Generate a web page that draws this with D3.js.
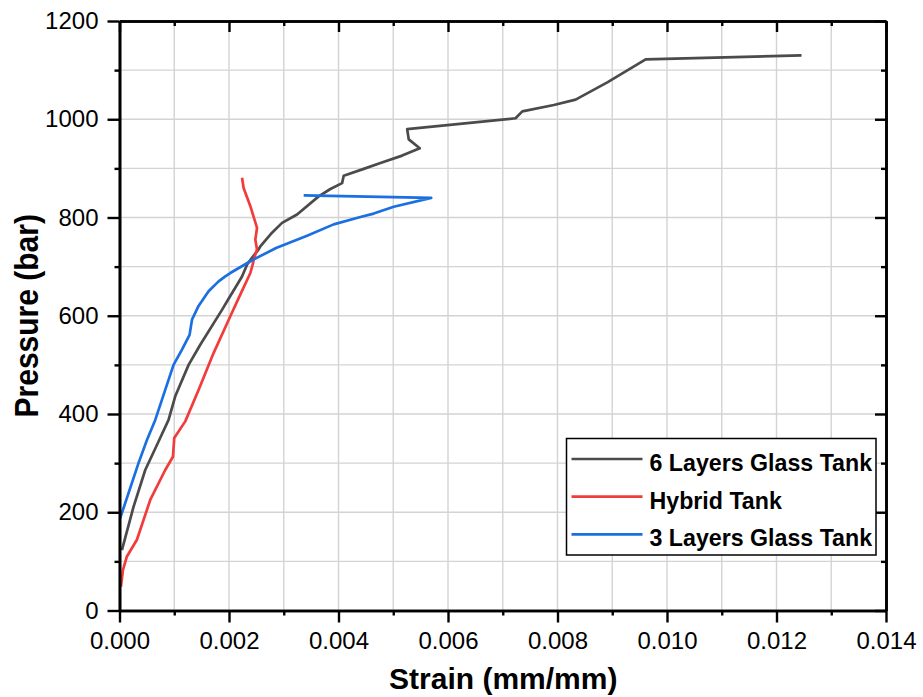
<!DOCTYPE html>
<html>
<head>
<meta charset="utf-8">
<script src="https://cdn.jsdelivr.net/npm/d3@7"></script>
<style>
  html, body { margin: 0; padding: 0; background: #fff; }
  svg { display: block; }
  text { font-family: "Liberation Sans", Arial, sans-serif; fill: #000; }
</style>
</head>
<body>
<svg id="chart" width="923" height="697"></svg>
<script>
// Strain (mm/mm) versus internal pressure (bar) for three tank builds

const seriesNames = ["6 Layers Glass Tank", "Hybrid Tank", "3 Layers Glass Tank"];
const seriesColors = ["#4b4b4b", "#f23b3b", "#1b6fe0"];

const strain6 = [0.000044, 0.000256, 0.00047, 0.000713, 0.000896, 0.001018, 0.001262, 0.001475,
  0.001872, 0.001963, 0.002238, 0.002329, 0.00242, 0.002541, 0.002572,
  0.002786, 0.002969, 0.003243, 0.003638, 0.003852, 0.004066, 0.004095, 0.004461, 0.004766,
  0.005163, 0.005484, 0.005283, 0.005254, 0.007234, 0.007357, 0.007934, 0.008331, 0.00891,
  0.00961, 0.012457];
const pressure6 = [123, 211, 286, 344, 388, 436, 500, 541,
  612, 629, 680, 704, 718, 735, 741,
  769, 789, 806, 843, 858, 870, 885, 899, 911,
  926, 941, 959, 980, 1002, 1016, 1029, 1040, 1075,
  1122, 1130];

const strainHybrid = [0.0000256, 0.0000622, 0.000135, 0.000318, 0.000561, 0.000835, 0.000976,
  0.001, 0.001201, 0.001444, 0.001718, 0.002024, 0.002176, 0.00239, 0.002439, 0.00245,
  0.002511, 0.002481, 0.002512, 0.00239, 0.002267, 0.002238];
const pressureHybrid = [48, 82, 110, 144, 225, 286, 313,
  351, 385, 449, 524, 599, 636, 687, 707, 714,
  735, 755, 779, 823, 860, 881];

const strain3 = [0.0000128, 0.000347, 0.000501, 0.000653, 0.000835, 0.000987, 0.001141,
  0.00128, 0.001324, 0.001444, 0.001627, 0.00181, 0.001932, 0.002024, 0.00239,
  0.00286, 0.003426, 0.003912, 0.0044, 0.004643, 0.005009, 0.005693, 0.003364];
const pressure3 = [188, 300, 347, 388, 449, 500, 531,
  561, 592, 620, 650, 670, 680, 687, 711,
  738, 763, 786, 801, 808, 822, 840, 845];

const xMajorTicks = [0, 0.002, 0.004, 0.006, 0.008, 0.010, 0.012, 0.014];
const xMinorTicks = [0.001, 0.003, 0.005, 0.007, 0.009, 0.011, 0.013];
const yMajorTicks = [0, 200, 400, 600, 800, 1000, 1200];
const yMinorTicks = [100, 300, 500, 700, 900, 1100];

const xTitle = "Strain (mm/mm)";
const yTitle = "Pressure (bar)";

const svg = d3.select("#chart");
const plot = { left: 119.5, right: 886, top: 21, bottom: 610.5 };

const x = d3.scaleLinear().domain([0, 0.014]).range([plot.left, plot.right]);
const y = d3.scaleLinear().domain([0, 1200]).range([plot.bottom, plot.top]);

// grid
const grid = svg.append("g").attr("stroke", "#d3d3d3").attr("stroke-width", 1.4);
grid.selectAll("line.v").data(xMajorTicks.concat(xMinorTicks)).join("line")
  .attr("x1", d => x(d)).attr("x2", d => x(d))
  .attr("y1", plot.top).attr("y2", plot.bottom);
grid.selectAll("line.h").data(yMajorTicks.concat(yMinorTicks)).join("line")
  .attr("x1", plot.left).attr("x2", plot.right)
  .attr("y1", d => y(d)).attr("y2", d => y(d));

// series
const series = [
  { name: seriesNames[0], color: seriesColors[0], xs: strain6, ys: pressure6 },
  { name: seriesNames[1], color: seriesColors[1], xs: strainHybrid, ys: pressureHybrid },
  { name: seriesNames[2], color: seriesColors[2], xs: strain3, ys: pressure3 }
];
const line = d3.line().x(d => x(d[0])).y(d => y(d[1])).curve(d3.curveLinear);
svg.append("g").selectAll("path").data(series).join("path")
  .attr("d", s => line(s.xs.map((v, i) => [v, s.ys[i]])))
  .attr("fill", "none")
  .attr("stroke", s => s.color)
  .attr("stroke-width", 2.7)
  .attr("stroke-linejoin", "round")
  .attr("stroke-linecap", "butt");

// axes
function styleAxis(g) {
  g.select(".domain").attr("stroke", "#000").attr("stroke-width", 2.6);
  g.selectAll(".tick line").attr("stroke", "#000").attr("stroke-width", 2.4);
  g.selectAll(".tick text").attr("font-size", 24).attr("font-family", "Liberation Sans, Arial, sans-serif").attr("fill", "#000");
}
const fmt = d3.format(".3f");

svg.append("g").attr("transform", `translate(0,${plot.bottom})`)
  .call(d3.axisBottom(x).tickValues(xMajorTicks).tickFormat(fmt).tickSize(12).tickPadding(9).tickSizeOuter(0))
  .call(styleAxis);
svg.append("g").attr("transform", `translate(0,${plot.bottom})`)
  .call(d3.axisBottom(x).tickValues(xMinorTicks).tickFormat("").tickSize(5).tickSizeOuter(0))
  .call(styleAxis);

svg.append("g").attr("transform", `translate(${plot.left},0)`)
  .call(d3.axisLeft(y).tickValues(yMajorTicks).tickFormat(d3.format("d")).tickSize(12).tickPadding(9).tickSizeOuter(0))
  .call(styleAxis);
svg.append("g").attr("transform", `translate(${plot.left},0)`)
  .call(d3.axisLeft(y).tickValues(yMinorTicks).tickFormat("").tickSize(5).tickSizeOuter(0))
  .call(styleAxis);

// mirrored frame with inward ticks
svg.append("g").attr("transform", `translate(0,${plot.top})`)
  .call(d3.axisBottom(x).tickValues(xMajorTicks).tickFormat("").tickSize(11).tickSizeOuter(0))
  .call(styleAxis);
svg.append("g").attr("transform", `translate(0,${plot.top})`)
  .call(d3.axisBottom(x).tickValues(xMinorTicks).tickFormat("").tickSize(5).tickSizeOuter(0))
  .call(styleAxis);
svg.append("g").attr("transform", `translate(${plot.right},0)`)
  .call(d3.axisLeft(y).tickValues(yMajorTicks).tickFormat("").tickSize(11).tickSizeOuter(0))
  .call(styleAxis);
svg.append("g").attr("transform", `translate(${plot.right},0)`)
  .call(d3.axisLeft(y).tickValues(yMinorTicks).tickFormat("").tickSize(5).tickSizeOuter(0))
  .call(styleAxis);

// axis titles
svg.append("text")
  .attr("x", (plot.left + plot.right) / 2 + 0.5).attr("y", 689)
  .attr("text-anchor", "middle")
  .attr("font-size", 30).attr("font-weight", "bold")
  .text(xTitle);
svg.append("text")
  .attr("transform", `translate(38,${(plot.top + plot.bottom) / 2}) scale(1.1,1) rotate(-90)`)
  .attr("text-anchor", "middle")
  .attr("font-size", 30).attr("font-weight", "bold")
  .text(yTitle);

// legend
const legend = svg.append("g");
legend.append("rect")
  .attr("x", 566.5).attr("y", 438.5).attr("width", 309.5).attr("height", 116.5)
  .attr("fill", "#fff").attr("stroke", "#000").attr("stroke-width", 1.5);
const rows = legend.selectAll("g.row").data(series).join("g")
  .attr("transform", (d, i) => `translate(0,${459 + i * 37.7})`);
rows.append("line")
  .attr("x1", 571.5).attr("x2", 642.5).attr("y1", 0).attr("y2", 0)
  .attr("stroke", d => d.color).attr("stroke-width", 2.7);
rows.append("text")
  .attr("x", 649.5).attr("y", 11.8)
  .attr("font-size", 23.2).attr("font-weight", "bold")
  .text(d => d.name);
</script>
</body>
</html>
